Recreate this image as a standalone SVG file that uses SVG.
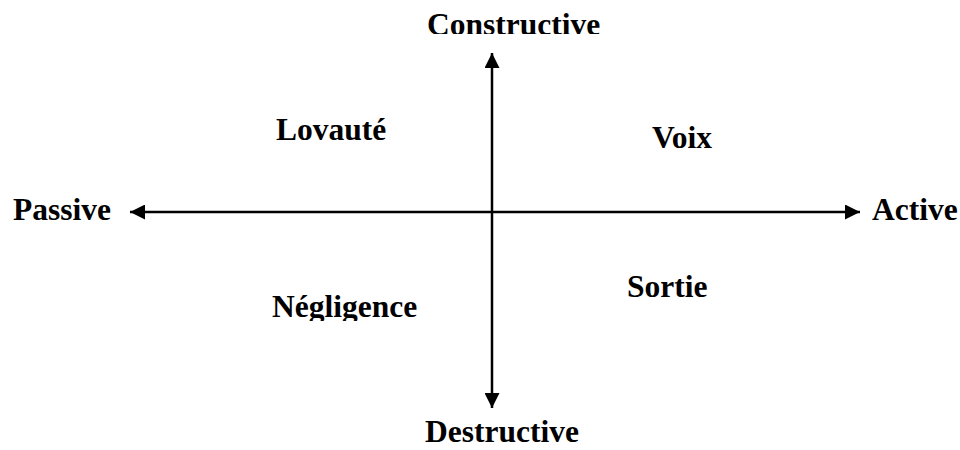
<svg xmlns="http://www.w3.org/2000/svg" width="960" height="450" viewBox="0 0 960 450">
<style>
text{font-family:"Liberation Serif","Times New Roman",serif;font-weight:bold;font-size:31.5px;fill:#000}
.ax{stroke:#000;stroke-width:2.5;fill:none}
</style>
<defs>
<marker id="ah" viewBox="0 0 10 10" refX="10" refY="5" markerWidth="6" markerHeight="6" markerUnits="strokeWidth" orient="auto">
<path d="M0,0 L10,5 L0,10 Z" fill="#000"/>
</marker>
<clipPath id="c1"><rect x="0" y="0" width="960" height="34"/></clipPath>
<clipPath id="c2"><rect x="0" y="0" width="960" height="321"/></clipPath>
</defs>
<rect width="960" height="450" fill="#fff"/>
<g id="connectors">
<line class="ax" x1="492" y1="212" x2="492" y2="53" marker-end="url(#ah)"/>
<line class="ax" x1="492" y1="212" x2="492" y2="408" marker-end="url(#ah)"/>
<line class="ax" x1="492" y1="212" x2="130" y2="212" marker-end="url(#ah)"/>
<line class="ax" x1="492" y1="212" x2="860" y2="212" marker-end="url(#ah)"/>
</g>
<g id="constructive"><text x="427" y="35" clip-path="url(#c1)">Constructive</text></g>
<g id="destructive"><text x="425" y="442">Destructive</text></g>
<g id="passive"><text x="13" y="220">Passive</text></g>
<g id="active"><text x="872" y="220">Active</text></g>
<g id="lovaute"><text x="276" y="140">Lovauté</text></g>
<g id="voix"><text x="652" y="148">Voix</text></g>
<g id="negligence"><text x="272" y="317" clip-path="url(#c2)">Négligence</text></g>
<g id="sortie"><text x="627" y="297">Sortie</text></g>
</svg>
